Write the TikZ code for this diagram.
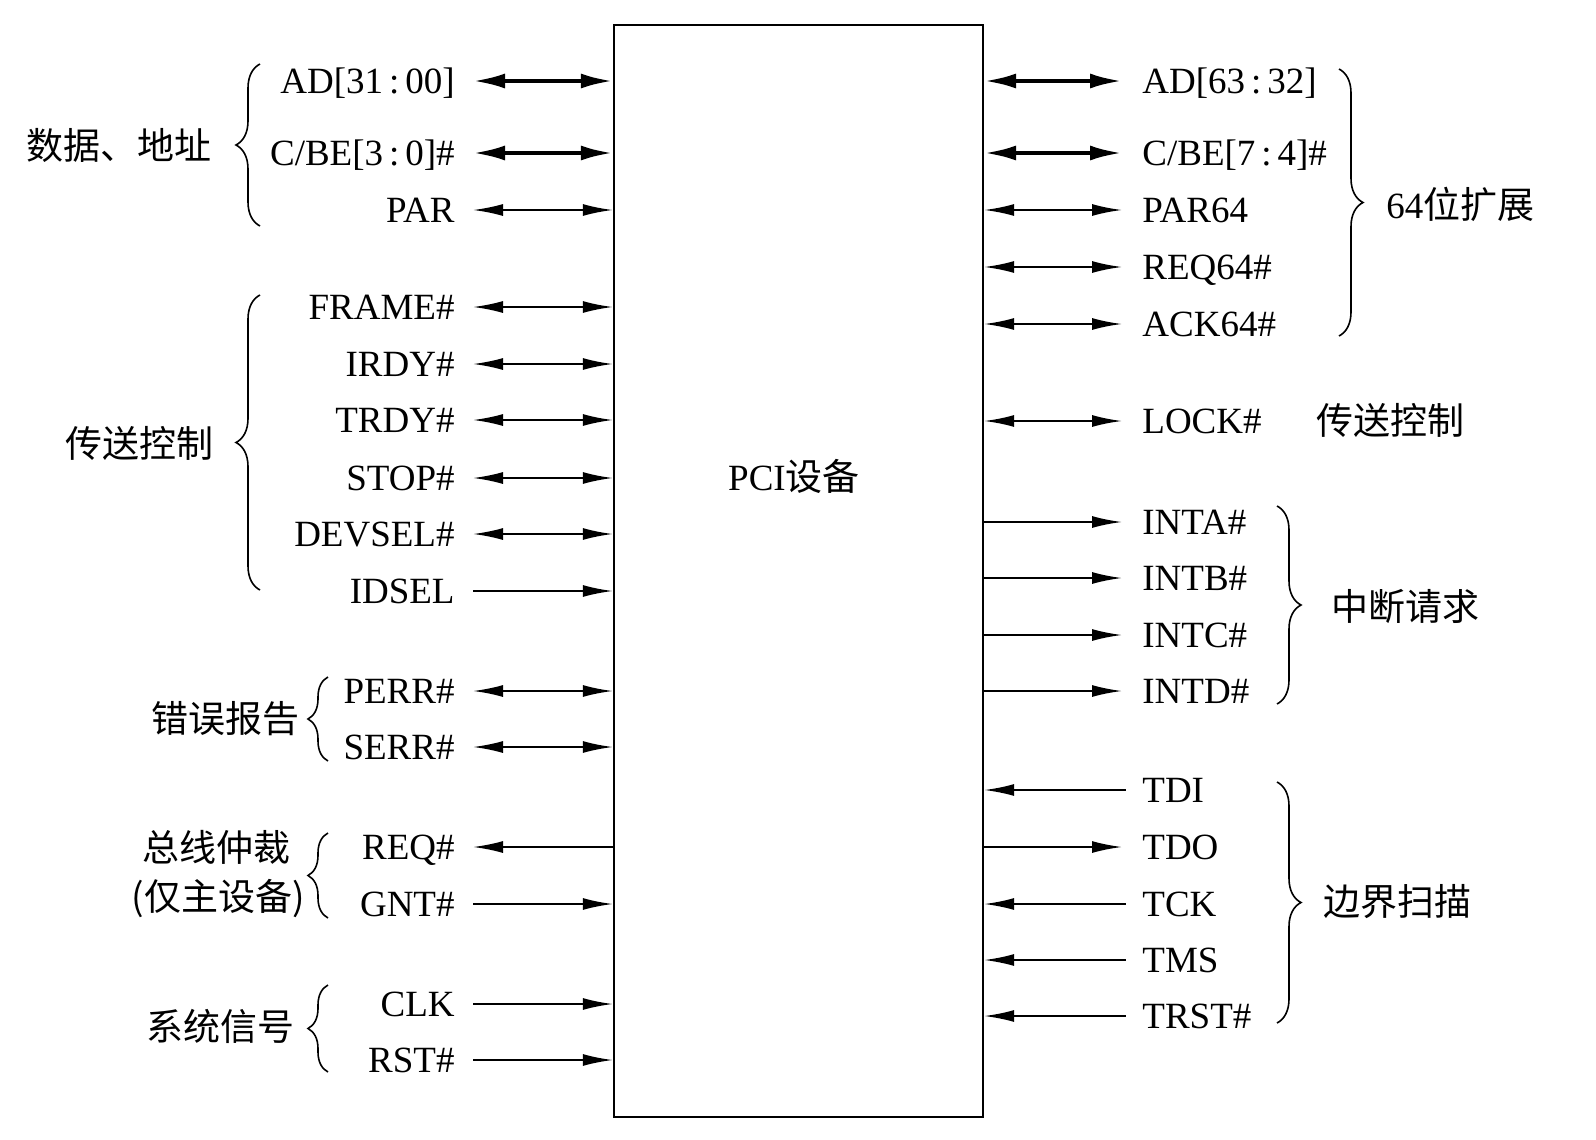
\documentclass[tikz,border=0pt]{standalone}
\usepackage{fontspec}
\setmainfont{Liberation Serif}
\newfontfamily\cjk{Noto Sans CJK SC}
\usetikzlibrary{arrows.meta,decorations.pathreplacing}
\newcommand\cln{\hspace{0.16em}:\hspace{0.16em}}
\begin{document}
\begin{tikzpicture}[x=0.5pt,y=-0.5pt,
  every node/.style={inner sep=0pt,font=\fontsize{18.5}{22}\selectfont},
  >={Latex[length=15pt,width=6pt]},
  sl/.style={anchor=east,text height=13pt,text depth=1pt},
  sr/.style={anchor=west,text height=13pt,text depth=1pt},
  gl/.style={font=\fontsize{18.5}{22}\selectfont\cjk,text height=14.8pt,text depth=0.8pt},
  wire/.style={line width=1pt},
  bus/.style={line width=2pt,>={Latex[length=16pt,width=7.5pt]}},
  brc/.style={decorate,decoration={brace,amplitude=#1},line width=0.8pt},
  brc/.default=11pt
]
\useasboundingbox (0,0) rectangle (1596,1140);
\fill[white] (0,0) rectangle (1596,1140);

% device box
\node[draw,line width=1.2pt,minimum width=184.5pt,minimum height=546pt] (pci) at (798.5,571) {};
\node[text height=13pt,text depth=1pt] (pcit) at (794,478) {PCI{\cjk 设备}};

% ---------- left signals ----------
\node[sl] (ad)     at (455,81)   {AD[31\cln 00]};
\node[sl] (cbe)    at (455,153)  {C/BE[3\cln 0]\#};
\node[sl] (par)    at (455,210)  {PAR};
\node[sl] (frame)  at (455,307)  {FRAME\#};
\node[sl] (irdy)   at (455,364)  {IRDY\#};
\node[sl] (trdy)   at (455,420)  {TRDY\#};
\node[sl] (stop)   at (455,478)  {STOP\#};
\node[sl] (devsel) at (455,534)  {DEVSEL\#};
\node[sl] (idsel)  at (455,591)  {IDSEL};
\node[sl] (perr)   at (455,691)  {PERR\#};
\node[sl] (serr)   at (455,747)  {SERR\#};
\node[sl] (req)    at (455,847)  {REQ\#};
\node[sl] (gnt)    at (455,904)  {GNT\#};
\node[sl] (clk)    at (455,1004) {CLK};
\node[sl] (rst)    at (455,1060) {RST\#};

\draw[bus,<->]  ([xshift=9pt]ad.east)     -- (ad.east -| pci.west);
\draw[bus,<->]  ([xshift=9pt]cbe.east)    -- (cbe.east -| pci.west);
\draw[wire,<->] ([xshift=9pt]par.east)    -- (par.east -| pci.west);
\draw[wire,<->] ([xshift=9pt]frame.east)  -- (frame.east -| pci.west);
\draw[wire,<->] ([xshift=9pt]irdy.east)   -- (irdy.east -| pci.west);
\draw[wire,<->] ([xshift=9pt]trdy.east)   -- (trdy.east -| pci.west);
\draw[wire,<->] ([xshift=9pt]stop.east)   -- (stop.east -| pci.west);
\draw[wire,<->] ([xshift=9pt]devsel.east) -- (devsel.east -| pci.west);
\draw[wire,->]  ([xshift=9pt]idsel.east)  -- (idsel.east -| pci.west);
\draw[wire,<->] ([xshift=9pt]perr.east)   -- (perr.east -| pci.west);
\draw[wire,<->] ([xshift=9pt]serr.east)   -- (serr.east -| pci.west);
\draw[wire,<-]  ([xshift=9pt]req.east)    -- (req.east -| pci.west);
\draw[wire,->]  ([xshift=9pt]gnt.east)    -- (gnt.east -| pci.west);
\draw[wire,->]  ([xshift=9pt]clk.east)    -- (clk.east -| pci.west);
\draw[wire,->]  ([xshift=9pt]rst.east)    -- (rst.east -| pci.west);

% ---------- right signals ----------
\node[sr] (adh)   at (1142,81)   {AD[63\cln 32]};
\node[sr] (cbeh)  at (1142,153)  {C/BE[7\cln 4]\#};
\node[sr] (parh)  at (1142,210)  {PAR64};
\node[sr] (req64) at (1142,267)  {REQ64\#};
\node[sr] (ack64) at (1142,324)  {ACK64\#};
\node[sr] (lock)  at (1142,421)  {LOCK\#};
\node[sr] (inta)  at (1142,522)  {INTA\#};
\node[sr] (intb)  at (1142,578)  {INTB\#};
\node[sr] (intc)  at (1142,635)  {INTC\#};
\node[sr] (intd)  at (1142,691)  {INTD\#};
\node[sr] (tdi)   at (1142,790)  {TDI};
\node[sr] (tdo)   at (1142,847)  {TDO};
\node[sr] (tck)   at (1142,904)  {TCK};
\node[sr] (tms)   at (1142,960)  {TMS};
\node[sr] (trst)  at (1142,1016) {TRST\#};

\draw[bus,<->]  (adh.west -| pci.east)   -- ([xshift=-10pt]adh.west);
\draw[bus,<->]  (cbeh.west -| pci.east)  -- ([xshift=-10pt]cbeh.west);
\draw[wire,<->] (parh.west -| pci.east)  -- ([xshift=-10pt]parh.west);
\draw[wire,<->] (req64.west -| pci.east) -- ([xshift=-10pt]req64.west);
\draw[wire,<->] (ack64.west -| pci.east) -- ([xshift=-10pt]ack64.west);
\draw[wire,<->] (lock.west -| pci.east)  -- ([xshift=-10pt]lock.west);
\draw[wire,->]  (inta.west -| pci.east)  -- ([xshift=-10pt]inta.west);
\draw[wire,->]  (intb.west -| pci.east)  -- ([xshift=-10pt]intb.west);
\draw[wire,->]  (intc.west -| pci.east)  -- ([xshift=-10pt]intc.west);
\draw[wire,->]  (intd.west -| pci.east)  -- ([xshift=-10pt]intd.west);
\draw[wire,<-]  (tdi.west -| pci.east)   -- ([xshift=-8pt]tdi.west);
\draw[wire,->]  (tdo.west -| pci.east)   -- ([xshift=-10pt]tdo.west);
\draw[wire,<-]  (tck.west -| pci.east)   -- ([xshift=-8pt]tck.west);
\draw[wire,<-]  (tms.west -| pci.east)   -- ([xshift=-8pt]tms.west);
\draw[wire,<-]  (trst.west -| pci.east)  -- ([xshift=-8pt]trst.west);

% ---------- left groups ----------
\draw[brc=12pt] (260,226) -- (260,64);
\node[gl,anchor=east] (g1) at (212,145) {数据、地址};
\draw[brc=12pt] (260,590) -- (260,295);
\node[gl,anchor=east] (g2) at (214,443) {传送控制};
\draw[brc=10pt] (328,761) -- (328,677);
\node[gl,anchor=east] (g3) at (300,718) {错误报告};
\draw[brc=10pt] (328,918) -- (328,833);
\node[gl,anchor=east] (g4a) at (291,847) {总线仲裁};
\node[gl,anchor=east] (g4b) at (305,896) {(仅主设备)};
\draw[brc=10pt] (328,1072) -- (328,985);
\node[gl,anchor=east] (g5) at (295,1026) {系统信号};

% ---------- right groups ----------
\draw[brc=12pt] (1339,69) -- (1339,336);
\node[gl,anchor=west] (h1) at (1386,204) {{\fontspec{Liberation Serif}64}位扩展};
\node[gl,anchor=west] (h2) at (1316,420) {传送控制};
\draw[brc=12pt] (1277,506) -- (1277,704);
\node[gl,anchor=west] (h3) at (1331,606) {中断请求};
\draw[brc=12pt] (1277,782) -- (1277,1023);
\node[gl,anchor=west] (h4) at (1323,901) {边界扫描};
\end{tikzpicture}
\end{document}
